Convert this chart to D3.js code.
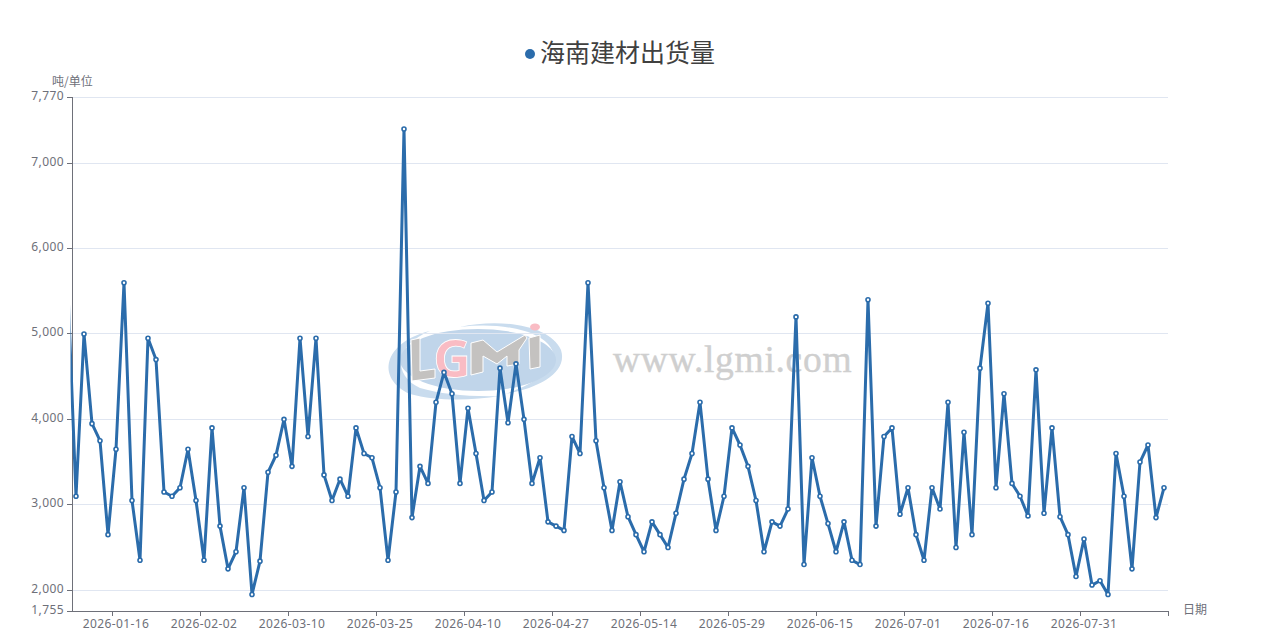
<!DOCTYPE html>
<html>
<head>
<meta charset="utf-8">
<script src="https://cdn.jsdelivr.net/npm/d3@7"></script>
<style>
  body { margin: 0; background: #fff; }
  text { font-family: "Noto Sans", "Noto Sans CJK SC", sans-serif; }
  .axis text { fill: #6e7079; font-size: 12px; letter-spacing: 0.4px; }
  .axis line, .axis path { stroke: #6e7079; stroke-width: 1; shape-rendering: crispEdges; }
  .grid line { stroke: #e0e6f1; stroke-width: 1; shape-rendering: crispEdges; }
  .name { fill: #6e7079; font-size: 12px; font-family: "Noto Sans CJK SC", sans-serif; }
</style>
</head>
<body>
<script>
// Width and height
var w = 1263,
    h = 631,
    plotLeft = 72,
    plotRight = 1168,
    plotTop = 97.4,
    plotBottom = 611.1;

var title = '海南建材出货量';
var yName = '吨/单位';
var xName = '日期';
var lineColor = '#2b6cab';

// the first date sits left of the y axis, only its line shows (chart was zoomed in)
var dates = [
  '2026-01-09','2026-01-10','2026-01-12','2026-01-13','2026-01-14','2026-01-15','2026-01-16',
  '2026-01-17','2026-01-19','2026-01-20','2026-01-21','2026-01-22','2026-01-23','2026-01-24','2026-01-26','2026-01-28','2026-01-30','2026-02-02',
  '2026-02-03','2026-02-05','2026-02-07','2026-02-10','2026-02-12','2026-02-14','2026-02-26','2026-03-02','2026-03-04','2026-03-06','2026-03-10',
  '2026-03-11','2026-03-12','2026-03-13','2026-03-14','2026-03-16','2026-03-17','2026-03-18','2026-03-19','2026-03-20','2026-03-23','2026-03-25',
  '2026-03-26','2026-03-27','2026-03-28','2026-03-30','2026-03-31','2026-04-01','2026-04-02','2026-04-03','2026-04-07','2026-04-08','2026-04-10',
  '2026-04-11','2026-04-13','2026-04-14','2026-04-15','2026-04-16','2026-04-17','2026-04-18','2026-04-20','2026-04-22','2026-04-24','2026-04-27',
  '2026-04-28','2026-04-29','2026-04-30','2026-05-06','2026-05-07','2026-05-08','2026-05-09','2026-05-11','2026-05-12','2026-05-13','2026-05-14',
  '2026-05-15','2026-05-16','2026-05-18','2026-05-19','2026-05-20','2026-05-21','2026-05-22','2026-05-23','2026-05-25','2026-05-27','2026-05-29',
  '2026-05-30','2026-06-01','2026-06-02','2026-06-03','2026-06-04','2026-06-05','2026-06-06','2026-06-08','2026-06-10','2026-06-12','2026-06-15',
  '2026-06-16','2026-06-17','2026-06-18','2026-06-22','2026-06-23','2026-06-24','2026-06-25','2026-06-26','2026-06-27','2026-06-29','2026-07-01',
  '2026-07-02','2026-07-03','2026-07-04','2026-07-06','2026-07-07','2026-07-08','2026-07-09','2026-07-10','2026-07-11','2026-07-14','2026-07-16',
  '2026-07-17','2026-07-18','2026-07-20','2026-07-21','2026-07-22','2026-07-23','2026-07-24','2026-07-25','2026-07-27','2026-07-29','2026-07-31',
  '2026-08-01','2026-08-03','2026-08-04','2026-08-05','2026-08-06','2026-08-07','2026-08-08','2026-08-10','2026-08-11','2026-08-12'
];

var values = [
  5500,3100,5000,3950,3750,2650,3650,
  5600,3050,2350,4950,4700,3150,3100,3200,3650,3050,2350,
  3900,2750,2250,2450,3200,1950,2340,3380,3580,4000,3450,
  4950,3800,4950,3350,3050,3300,3100,3900,3600,3550,3200,
  2350,3150,7400,2850,3450,3250,4200,4550,4300,3250,4130,
  3600,3050,3150,4600,3960,4650,4000,3250,3550,2800,2750,
  2700,3800,3600,5600,3750,3200,2700,3270,2860,2650,2450,
  2800,2650,2500,2900,3300,3600,4200,3300,2700,3100,3900,
  3700,3450,3050,2450,2800,2750,2950,5200,2300,3550,3100,
  2780,2450,2800,2350,2300,5400,2750,3800,3900,2890,3200,
  2650,2350,3200,2950,4200,2500,3850,2650,4600,5360,3200,
  4300,3250,3100,2870,4580,2900,3900,2860,2650,2160,2600,
  2060,2110,1950,3600,3100,2250,3500,3700,2850,3200
];

var xTicks = ['2026-01-16','2026-02-02','2026-03-10','2026-03-25','2026-04-10','2026-04-27',
              '2026-05-14','2026-05-29','2026-06-15','2026-07-01','2026-07-16','2026-07-31'];
var yTicks = [1755, 2000, 3000, 4000, 5000, 6000, 7000, 7770];

var dataset = dates.map(function(d, i) { return { date: d, value: values[i] }; });

// Set scales
var bandW = (plotRight - plotLeft) / (dates.length - 1);
var xScale = d3.scaleBand()
               .domain(dates)
               .range([plotLeft - bandW, plotRight]);

var yScale = d3.scaleLinear()
               .domain([1755, 7770])
               .range([plotBottom, plotTop]);

// snap axis and grid lines to a pixel row
var yRow = function(d) { return Math.floor(yScale(d)) + 0.5; };

// Create SVG
var svg = d3.select('body')
            .append('svg')
            .attr('width', w)
            .attr('height', h)
            .style('display', 'block');

svg.append('defs').append('clipPath')
   .attr('id', 'plot')
   .append('rect')
   .attr('x', plotLeft - 1.5)
   .attr('y', 0)
   .attr('width', plotRight - plotLeft + 1.5)
   .attr('height', h);

// Watermark sits behind everything
var mark = svg.append('g').attr('class', 'watermark');
mark.append('path')
    .attr('fill', '#c9dcee')
    .attr('d', 'M410,394 C375,378 384,342 430,331 C395,345 392,375 420,388 C440,394 470,397 500,396 C470,401 435,401 410,394 Z');
mark.append('path')
    .attr('fill', '#c9dcee')
    .attr('d', 'M460,327 C500,318 550,325 561,350 C568,372 540,388 505,394 C540,382 556,368 553,352 C545,330 500,322 460,327 Z');
mark.append('ellipse')
    .attr('cx', 478).attr('cy', 360).attr('rx', 78).attr('ry', 31)
    .attr('fill', '#c0d5ea');
mark.append('path')
    .attr('fill', '#c4c2c0').attr('stroke', '#fff').attr('stroke-width', 1)
    .attr('d', 'M411,340 L420,338 L420,371 L435,369 L435,378 L412,381 Z');
mark.append('text')
    .attr('x', 452).attr('y', 377)
    .attr('text-anchor', 'middle')
    .attr('font-size', 52).attr('font-weight', 'bold')
    .attr('fill', '#f9bcc4').attr('stroke', '#fff').attr('stroke-width', 0.8)
    .text('G');
mark.append('path')
    .attr('fill', '#c4c2c0').attr('stroke', '#fff').attr('stroke-width', 1)
    .attr('d', 'M471,343 L483,340 L497,352 L525,335 L527,338 L519,350 L519,364 L507,366 L507,356 L497,364 L483,356 L483,372 L471,375 Z');
mark.append('path')
    .attr('fill', '#c4c2c0').attr('stroke', '#fff').attr('stroke-width', 1)
    .attr('d', 'M529,338 L540,335 L540,367 L530,369 Z');
mark.append('ellipse')
    .attr('cx', 535).attr('cy', 327).attr('rx', 5).attr('ry', 3.5)
    .attr('fill', '#f9bcc4');
mark.append('text')
    .attr('x', 613).attr('y', 372)
    .attr('font-size', 37.5)
    .attr('fill', '#cfcfcf')
    .attr('stroke', '#cfcfcf')
    .attr('stroke-width', 0.4)
    .style('font-family', '"Liberation Serif", serif')
    .style('letter-spacing', '0.7px')
    .text('www.lgmi.com');

// Grid
svg.append('g')
   .attr('class', 'grid')
   .selectAll('line')
   .data(yTicks.filter(function(d) { return d !== 1755; }))
   .enter()
   .append('line')
   .attr('x1', plotLeft)
   .attr('x2', plotRight)
   .attr('y1', yRow)
   .attr('y2', yRow);

// Define axes
var xAxis = d3.axisBottom()
              .scale(xScale)
              .tickValues(xTicks)
              .tickSizeOuter(0)
              .tickSize(5)
              .tickPadding(3);

var yAxis = d3.axisLeft()
              .scale(yScale)
              .tickValues(yTicks)
              .tickFormat(d3.format(','))
              .tickSizeOuter(0)
              .tickSize(5)
              .tickPadding(3);

var gy = svg.append('g')
   .attr('class', 'axis')
   .attr('transform', 'translate(' + plotLeft + ', 0)')
   .call(yAxis);

gy.selectAll('.tick')
  .attr('transform', function(d) { return 'translate(0,' + yRow(d) + ')'; });
gy.selectAll('.tick text').attr('dy', '0.22em');

var gx = svg.append('g')
   .attr('class', 'axis')
   .attr('transform', 'translate(0, ' + Math.floor(plotBottom) + ')')
   .call(xAxis);

// echarts style: ticks on band edges, labels on band centres
gx.selectAll('.tick line')
  .attr('x1', -bandW / 2)
  .attr('x2', -bandW / 2);
gx.select('.domain').attr('d', 'M' + plotLeft + ',0.5H' + plotRight);
gx.append('line')
  .attr('x1', plotRight)
  .attr('x2', plotRight)
  .attr('y1', 0)
  .attr('y2', 5);

// Line and points
var line = d3.line()
             .x(function(d) { return xScale(d.date) + xScale.bandwidth() / 2; })
             .y(function(d) { return yScale(d.value); });

var plot = svg.append('g').attr('clip-path', 'url(#plot)');

plot.append('path')
    .datum(dataset)
    .attr('fill', 'none')
    .attr('stroke', lineColor)
    .attr('stroke-width', 3)
    .attr('stroke-linejoin', 'bevel')
    .attr('d', line);

plot.selectAll('circle')
    .data(dataset.slice(1))
    .enter()
    .append('circle')
    .attr('cx', function(d) { return xScale(d.date) + xScale.bandwidth() / 2; })
    .attr('cy', function(d) { return yScale(d.value); })
    .attr('r', 2)
    .attr('fill', '#fff')
    .attr('stroke', lineColor)
    .attr('stroke-width', 1.6);

// Title with legend dot
svg.append('circle')
   .attr('cx', 530)
   .attr('cy', 54)
   .attr('r', 5)
   .attr('fill', lineColor);

svg.append('text')
   .attr('x', 540)
   .attr('y', 62)
   .attr('font-size', 25)
   .attr('fill', '#404040')
   .style('font-family', '"Noto Sans CJK SC", sans-serif')
   .text(title);

// Axis names
svg.append('text')
   .attr('class', 'name')
   .attr('x', 52)
   .attr('y', 85.5)
   .text(yName);

svg.append('text')
   .attr('class', 'name')
   .attr('x', 1183)
   .attr('y', 614)
   .text(xName);
</script>
</body>
</html>
